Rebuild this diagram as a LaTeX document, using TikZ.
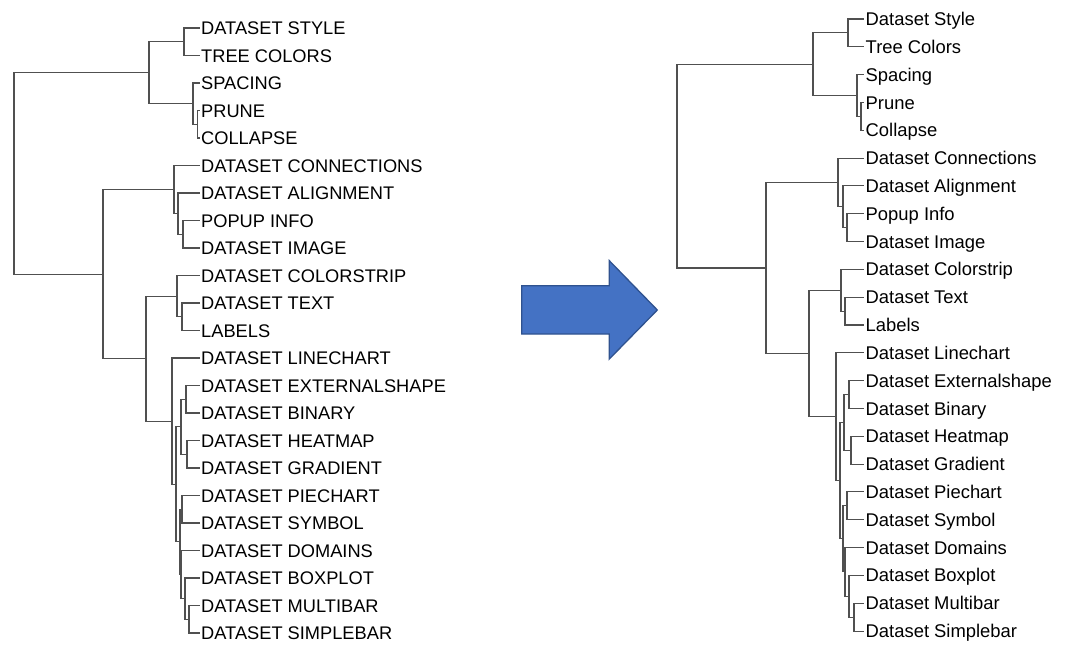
\documentclass[tikz,border=0pt]{standalone}
\usepackage{fontspec}
\setmainfont{Liberation Sans}
\definecolor{linegray}{RGB}{80,80,80}
\definecolor{arrowfill}{RGB}{68,114,196}
\definecolor{arrowdraw}{RGB}{47,82,143}
\newcommand\yl[1]{28+27.5*(#1)}
\newcommand\yr[1]{19+27.82*(#1)}
\begin{document}
\begin{tikzpicture}[x=1pt,y=-1pt,
  edge/.style={draw=linegray, line width=1.1pt, line cap=rect},
  leaf/.style={anchor=west, inner xsep=2pt, inner ysep=0pt, text height=13pt, text depth=0pt, font=\fontsize{18.25}{20}\selectfont},
  rleaf/.style={leaf, inner xsep=2.5pt, text height=13.1pt, font=\fontsize{18.4}{20}\selectfont},
]
\useasboundingbox (0,0) rectangle (1076,654);

% ---------- left tree: leaves ----------
\foreach \i/\t in {0/DATASET STYLE,1/TREE COLORS,2/SPACING,3/PRUNE,4/COLLAPSE,
  5/DATASET CONNECTIONS,6/DATASET ALIGNMENT,7/POPUP INFO,8/DATASET IMAGE,
  9/DATASET COLORSTRIP,10/DATASET TEXT,11/LABELS,12/DATASET LINECHART,
  13/DATASET EXTERNALSHAPE,14/DATASET BINARY,15/DATASET HEATMAP,16/DATASET GRADIENT,
  17/DATASET PIECHART,18/DATASET SYMBOL,19/DATASET DOMAINS,20/DATASET BOXPLOT,
  21/DATASET MULTIBAR,22/DATASET SIMPLEBAR}
  \node[leaf] (L\i) at (199,{\yl{\i}}) {\t};

% ---------- right tree: leaves ----------
\foreach \i/\t in {0/Dataset Style,1/Tree Colors,2/Spacing,3/Prune,4/Collapse,
  5/Dataset Connections,6/Dataset Alignment,7/Popup Info,8/Dataset Image,
  9/Dataset Colorstrip,10/Dataset Text,11/Labels,12/Dataset Linechart,
  13/Dataset Externalshape,14/Dataset Binary,15/Dataset Heatmap,16/Dataset Gradient,
  17/Dataset Piechart,18/Dataset Symbol,19/Dataset Domains,20/Dataset Boxplot,
  21/Dataset Multibar,22/Dataset Simplebar}
  \node[rleaf] (R\i) at (863,{\yr{\i}}) {\t};

% ---------- internal nodes: name / x left / x right / row ----------
\foreach \n/\xl/\xr/\r in {
  root/14/677/5.28711, top/149/813/1.625, st/184/848/0.5, sp/193/857/2.75, pc/197.5/861/3.5,
  bot/103/766/8.94922, co/174/838/5.875, al/178/843/6.75, pi/183/847/7.5,
  low/146/809/12.0234375, cs/177/841/9.75, tl/182/845/10.5,
  lc/172/836/14.296875, in/176/840/16.59375, eg/181/844/14.5, eb/186/849/13.5, hg/187/851/15.5,
  pd/180/843/18.6875, ps/182/847/17.5, dm/181/845/19.875, bx/185/849/20.75, ms/189/854/21.5}
{
  \coordinate (L\n) at (\xl,{\yl{\r}});
  \coordinate (R\n) at (\xr,{\yr{\r}});
}

% ---------- edges (same topology for both trees) ----------
\foreach \p in {L,R}
  \foreach \a/\b in {root/top, root/bot,
    top/st, top/sp, st/0.west, st/1.west, sp/2.west, sp/pc, pc/3.west, pc/4.west,
    bot/co, bot/low, co/5.west, co/al, al/6.west, al/pi, pi/7.west, pi/8.west,
    low/cs, low/lc, cs/9.west, cs/tl, tl/10.west, tl/11.west,
    lc/12.west, lc/in, in/eg, in/pd, eg/eb, eg/hg, eb/13.west, eb/14.west, hg/15.west, hg/16.west,
    pd/ps, pd/dm, ps/17.west, ps/18.west, dm/19.west, dm/bx, bx/20.west, bx/ms, ms/21.west, ms/22.west}
    \draw[edge] (\p\a) |- (\p\b);

% ---------- block arrow ----------
\draw[fill=arrowfill, draw=arrowdraw, line width=1.3pt, line join=miter]
  (521.7,285.7) -- (609.3,285.7) -- (609.3,260.7) -- (657.3,310) --
  (609.3,359) -- (609.3,334) -- (521.7,334) -- cycle;
\end{tikzpicture}
\end{document}
